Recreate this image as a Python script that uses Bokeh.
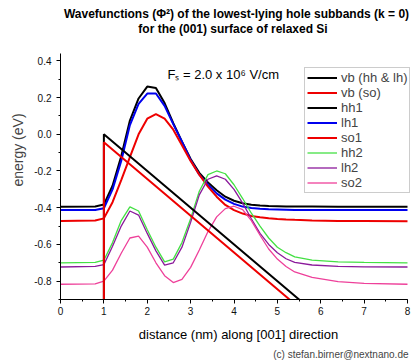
from bokeh.plotting import figure
from bokeh.models import (Range1d, SingleIntervalTicker, PrintfTickFormatter, Legend,
                          LegendItem, Label, Title)
from bokeh.embed import file_html
from bokeh.resources import INLINE

# ---------------- data ----------------
x_wf = [0.0, 0.8, 1.0, 1.2, 1.4, 1.6, 1.8, 2.0, 2.2, 2.4, 2.6, 2.8, 3.0, 3.2, 3.4,
        3.6, 3.8, 4.0, 4.2, 4.4, 4.6, 4.8, 5.0, 5.2, 5.4, 5.8, 6.4, 7.0, 8.0]

hh1 = [-0.395, -0.393, -0.383, -0.28, -0.12, 0.075, 0.195, 0.26, 0.252, 0.17, 0.06, -0.04,
       -0.135, -0.21, -0.262, -0.305, -0.34, -0.362, -0.376, -0.384, -0.388, -0.391,
       -0.392, -0.393, -0.394, -0.394, -0.395, -0.395, -0.395]
lh1 = [-0.413, -0.412, -0.403, -0.30, -0.145, 0.05, 0.165, 0.222, 0.222, 0.155, 0.055, -0.04,
       -0.14, -0.22, -0.275, -0.322, -0.356, -0.379, -0.394, -0.402, -0.406, -0.409,
       -0.41, -0.411, -0.412, -0.412, -0.413, -0.413, -0.413]
so1 = [-0.472, -0.47, -0.458, -0.37, -0.25, -0.125, 0.0, 0.085, 0.11, 0.085, 0.025, -0.06,
       -0.145, -0.22, -0.285, -0.34, -0.385, -0.413, -0.432, -0.445, -0.452, -0.457,
       -0.461, -0.464, -0.466, -0.469, -0.472, -0.473, -0.474]
hh2 = [-0.70, -0.698, -0.686, -0.59, -0.47, -0.395, -0.418, -0.52, -0.615, -0.695, -0.68,
       -0.59, -0.46, -0.31, -0.22, -0.20, -0.215, -0.275, -0.35, -0.43, -0.50, -0.565,
       -0.615, -0.645, -0.668, -0.685, -0.695, -0.698, -0.70]
lh2 = [-0.723, -0.72, -0.71, -0.61, -0.50, -0.418, -0.44, -0.54, -0.635, -0.713, -0.70,
       -0.615, -0.48, -0.33, -0.245, -0.227, -0.245, -0.30, -0.375, -0.46, -0.54, -0.60,
       -0.645, -0.678, -0.698, -0.712, -0.72, -0.722, -0.723]
so2 = [-0.817, -0.815, -0.80, -0.74, -0.648, -0.565, -0.555, -0.615, -0.70, -0.77, -0.808,
       -0.79, -0.725, -0.63, -0.53, -0.45, -0.405, -0.392, -0.41, -0.47, -0.55, -0.625,
       -0.68, -0.72, -0.75, -0.78, -0.803, -0.812, -0.817]

x_vb = [1.0, 1.0, 8.0]
vb_hhlh = [-1.0, 0.0, -1.4]
vb_so = [-1.0, -0.044, -1.444]

series = [
    ("vb (hh & lh)", x_vb, vb_hhlh, "#000000", 2.0),
    ("vb (so)", x_vb, vb_so, "#EE0000", 2.0),
    ("hh1", x_wf, hh1, "#000000", 2.0),
    ("lh1", x_wf, lh1, "#0000EE", 2.0),
    ("so1", x_wf, so1, "#EE0000", 2.0),
    ("hh2", x_wf, hh2, "#44E044", 1.3),
    ("lh2", x_wf, lh2, "#8B1A9B", 1.3),
    ("so2", x_wf, so2, "#EE409A", 1.3),
]

title_1 = "Wavefunctions (\u03a6\u00b2) of the lowest-lying hole subbands (k = 0)"
title_2 = "for the (001) surface of relaxed Si"
x_label = "distance (nm) along [001] direction"
y_label = "energy (eV)"
field_text = "F\u209b = 2.0 x 10\u2076 V/cm"
credit = "(c) stefan.birner@nextnano.de"

FONT = "Liberation Sans"
X0, X_AXIS_END = 0.0, 8.0
Y0, Y_AXIS_TOP = -0.9, 0.44

W, H = 418, 362
LEFT, RIGHT, BOTTOM = 60, 2, 63
FRAME_W = W - LEFT - RIGHT
FRAME_H = H - BOTTOM
NM_PER_PX = (X_AXIS_END - X0) / 347.0
EV_PER_PX = (Y_AXIS_TOP - Y0) / 246.0
X1 = X0 + FRAME_W * NM_PER_PX       # frame extends a little past the drawn x axis
Y1 = Y0 + FRAME_H * EV_PER_PX       # and up to the figure top, above the drawn y axis

p = figure(width=W, height=H, output_backend="svg", toolbar_location=None,
           x_range=Range1d(X0, X1), y_range=Range1d(Y0, Y1), title_location=None,
           min_border_left=LEFT, min_border_right=RIGHT, min_border_top=0,
           min_border_bottom=BOTTOM)
p.outline_line_color = None
p.grid.visible = False
p.background_fill_color = "white"
p.border_fill_color = "white"

renderers = {}
for name, xs, ys, col, lw in series[2:] + series[:2]:
    renderers[name] = p.line(xs, ys, line_color=col, line_width=lw)

for ax in (p.xaxis[0], p.yaxis[0]):
    ax.axis_line_color = "black"
    ax.axis_line_width = 1
    ax.major_tick_line_color = "black"
    ax.minor_tick_line_color = "black"
    ax.major_tick_out = 4
    ax.major_tick_in = 0
    ax.minor_tick_out = 2
    ax.minor_tick_in = 0
    ax.major_label_text_font = FONT
    ax.major_label_text_font_size = "10px"
    ax.major_label_text_color = "#111111"
    ax.axis_label_text_font = FONT
    ax.axis_label_text_font_style = "normal"
    ax.axis_label_text_color = "black"

p.xaxis[0].ticker = SingleIntervalTicker(interval=1, num_minor_ticks=2)
p.yaxis[0].ticker = SingleIntervalTicker(interval=0.2, num_minor_ticks=2)
p.yaxis[0].formatter = PrintfTickFormatter(format="%.1f")
p.xaxis[0].bounds = (X0, X_AXIS_END)
p.yaxis[0].bounds = (Y0, Y_AXIS_TOP)
p.xaxis[0].major_label_standoff = 3
p.yaxis[0].major_label_standoff = 5
p.xaxis[0].axis_label = x_label
p.xaxis[0].axis_label_text_font_size = "13px"
p.xaxis[0].axis_label_standoff = 9

legend = Legend(items=[LegendItem(label=name, renderers=[renderers[name]])
                       for name, *_ in series],
                location=(244, 106))
legend.label_text_font = FONT
legend.label_text_font_size = "13px"
legend.label_height = 15
legend.glyph_height = 15
legend.glyph_width = 30
legend.spacing = 0
legend.padding = 2
legend.margin = 0
legend.label_standoff = 4
legend.border_line_color = "#999999"
legend.border_line_width = 1
legend.background_fill_alpha = 1.0
p.add_layout(legend, "center")

# title lines (placed in the upper, axis-free part of the frame)
for txt, px_x, px_from_top in ((title_1, 176.0, 13.5), (title_2, 172.5, 28.0)):
    p.add_layout(Label(x=X0 + px_x * NM_PER_PX, y=Y1 - px_from_top * EV_PER_PX, text=txt,
                       text_font=FONT, text_font_size="12px", text_font_style="bold",
                       text_align="center", text_baseline="middle", text_color="black"))

# y-axis label as a left title (shifted upward like the original)
p.add_layout(Title(text=y_label, align="center", text_font=FONT, text_font_size="14px",
                   text_font_style="normal", standoff=12, offset=17), "left")

# credit line below the x axis
p.add_layout(Title(text=credit, align="right", text_font=FONT, text_font_size="10px",
                   text_font_style="normal", standoff=4, offset=8), "below")

# field annotation inside the frame
p.add_layout(Label(x=2.465, y=0.327, text=field_text, text_font=FONT, text_font_size="13px",
                   text_align="left", text_baseline="alphabetic", text_color="black"))

open("out.html", "w").write(file_html(p, INLINE))
